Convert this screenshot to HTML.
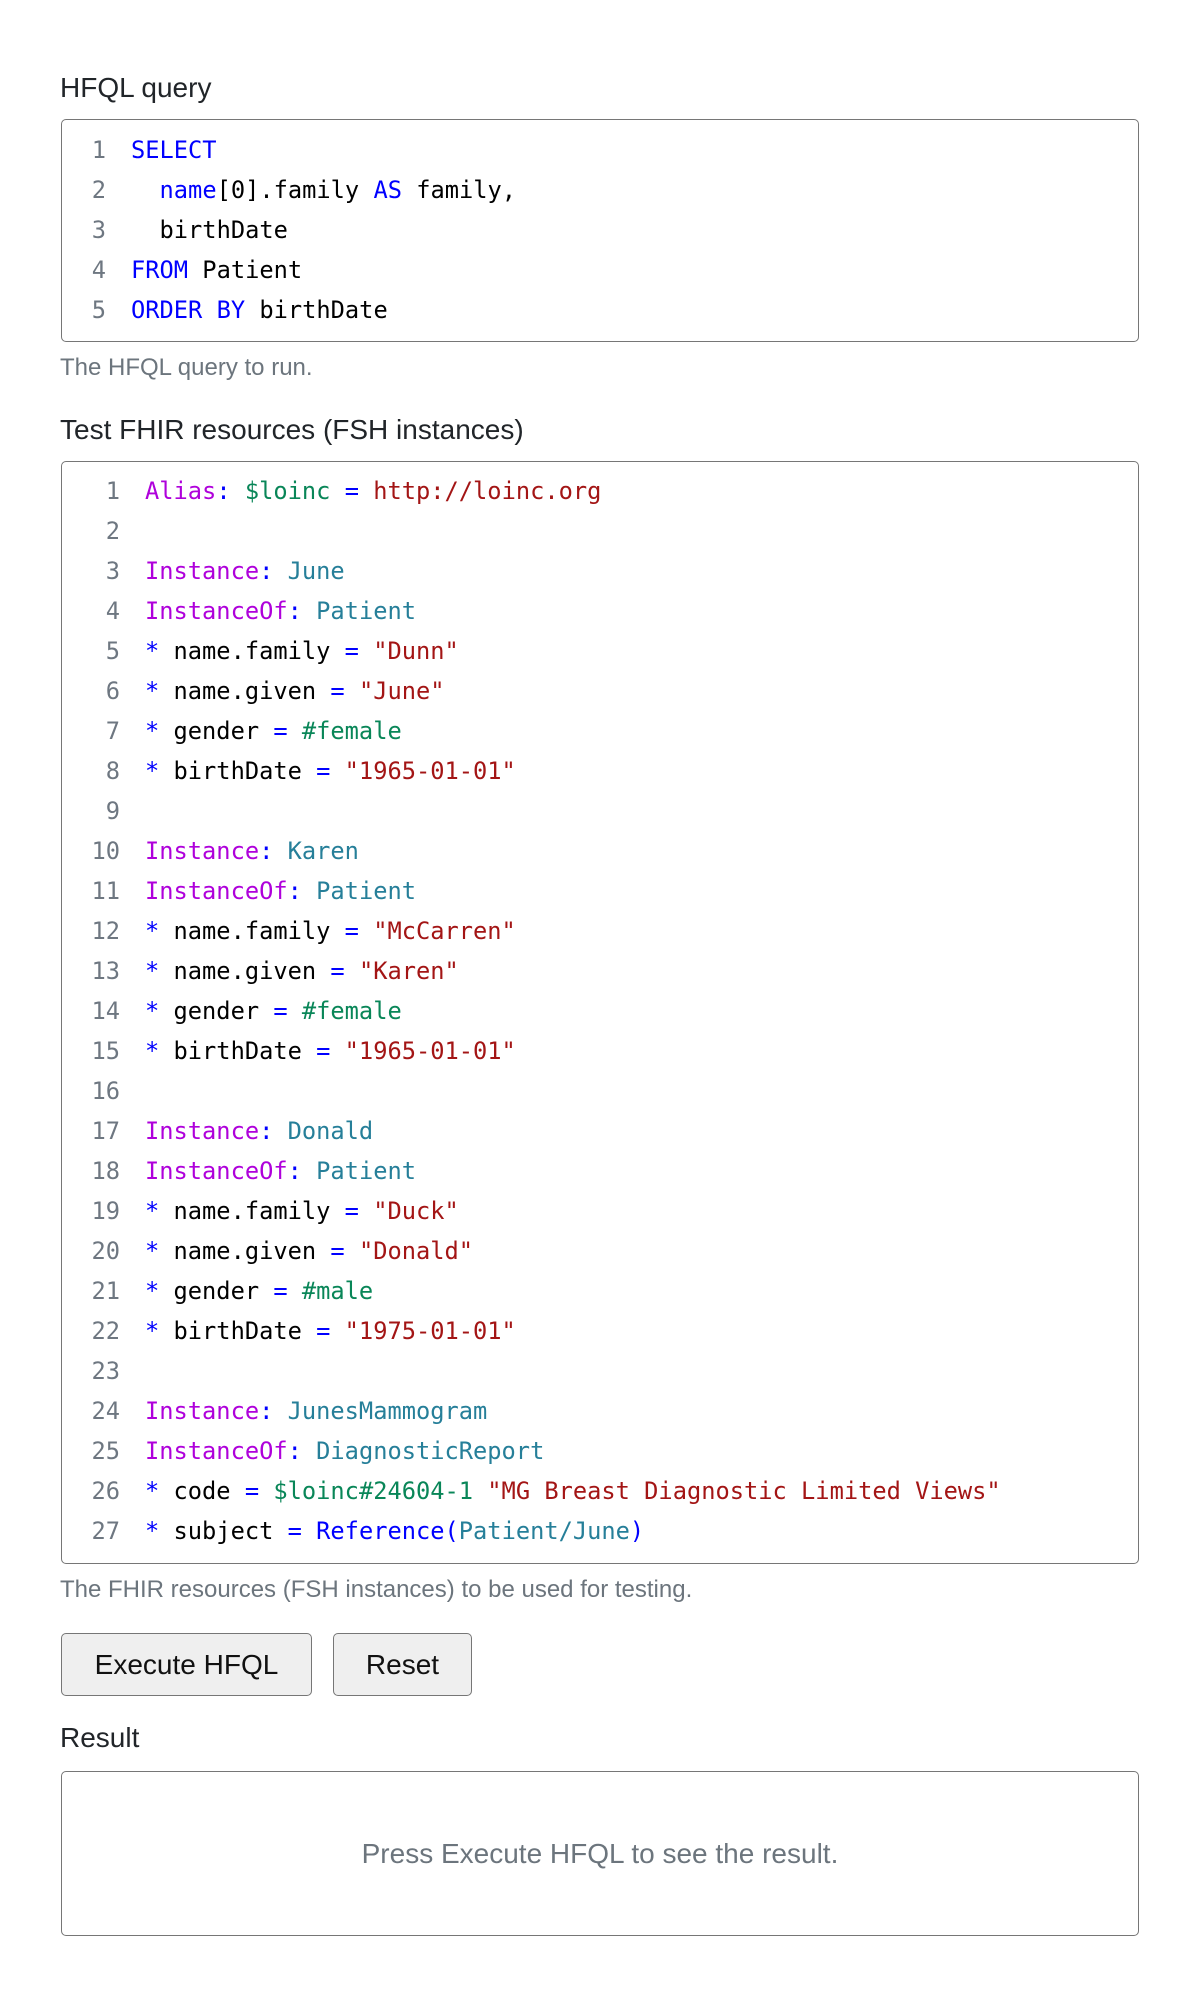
<!DOCTYPE html>
<html><head><meta charset="utf-8"><style>
body{margin:0;width:1200px;height:2004px;background:#fff;position:relative;font-family:"Liberation Sans",sans-serif;overflow:hidden}
.a{position:absolute;white-space:pre}
.lbl{font-size:28px;line-height:28px;color:#212529}
.cap{font-size:24px;line-height:24px;color:#6c757d}
.box{position:absolute;left:61px;width:1078px;border:1.5px solid #767676;border-radius:5px;box-sizing:border-box}
.code{position:absolute;font-family:"DejaVu Sans Mono","Liberation Mono",monospace;font-size:23.7px;line-height:40px;white-space:pre}
.n{position:absolute;text-align:right;color:#6e7781}
.k{color:#0000ff}.m{color:#af00db}.g{color:#098658}.r{color:#a31515}.t{color:#267f99}
.btn{position:absolute;top:1633px;height:63px;background:#efefef;border:1.5px solid #767676;border-radius:5px;box-sizing:border-box;font-size:28px;color:#111;display:flex;align-items:center;justify-content:center}
</style></head><body>
<div class="a lbl" style="left:60px;top:74px">HFQL query</div>
<div class="box" style="top:119px;height:223px"></div>
<div class="code n" style="left:69px;width:37px;top:130px">1
2
3
4
5</div>
<div class="code" style="left:131px;top:130px"><span class="k">SELECT</span>
  <span class="k">name</span>[0].family <span class="k">AS</span> family,
  birthDate
<span class="k">FROM</span> Patient
<span class="k">ORDER BY</span> birthDate</div>
<div class="a cap" style="left:60px;top:356px">The HFQL query to run.</div>

<div class="a lbl" style="left:60px;top:416px">Test FHIR resources (FSH instances)</div>
<div class="box" style="top:461px;height:1103px"></div>
<div class="code n" style="left:69px;width:51px;top:471px">1
2
3
4
5
6
7
8
9
10
11
12
13
14
15
16
17
18
19
20
21
22
23
24
25
26
27</div>
<div class="code" style="left:145px;top:471px"><span class="m">Alias</span><span class="k">:</span> <span class="g">$loinc</span> <span class="k">=</span> <span class="r">http://loinc.org</span>

<span class="m">Instance</span><span class="k">:</span> <span class="t">June</span>
<span class="m">InstanceOf</span><span class="k">:</span> <span class="t">Patient</span>
<span class="k">*</span> name.family <span class="k">=</span> <span class="r">"Dunn"</span>
<span class="k">*</span> name.given <span class="k">=</span> <span class="r">"June"</span>
<span class="k">*</span> gender <span class="k">=</span> <span class="g">#female</span>
<span class="k">*</span> birthDate <span class="k">=</span> <span class="r">"1965-01-01"</span>

<span class="m">Instance</span><span class="k">:</span> <span class="t">Karen</span>
<span class="m">InstanceOf</span><span class="k">:</span> <span class="t">Patient</span>
<span class="k">*</span> name.family <span class="k">=</span> <span class="r">"McCarren"</span>
<span class="k">*</span> name.given <span class="k">=</span> <span class="r">"Karen"</span>
<span class="k">*</span> gender <span class="k">=</span> <span class="g">#female</span>
<span class="k">*</span> birthDate <span class="k">=</span> <span class="r">"1965-01-01"</span>

<span class="m">Instance</span><span class="k">:</span> <span class="t">Donald</span>
<span class="m">InstanceOf</span><span class="k">:</span> <span class="t">Patient</span>
<span class="k">*</span> name.family <span class="k">=</span> <span class="r">"Duck"</span>
<span class="k">*</span> name.given <span class="k">=</span> <span class="r">"Donald"</span>
<span class="k">*</span> gender <span class="k">=</span> <span class="g">#male</span>
<span class="k">*</span> birthDate <span class="k">=</span> <span class="r">"1975-01-01"</span>

<span class="m">Instance</span><span class="k">:</span> <span class="t">JunesMammogram</span>
<span class="m">InstanceOf</span><span class="k">:</span> <span class="t">DiagnosticReport</span>
<span class="k">*</span> code <span class="k">=</span> <span class="g">$loinc#24604-1</span> <span class="r">"MG Breast Diagnostic Limited Views"</span>
<span class="k">*</span> subject <span class="k">=</span> <span class="k">Reference(</span><span class="t">Patient/June</span><span class="k">)</span></div>
<div class="a cap" style="left:60px;top:1578px">The FHIR resources (FSH instances) to be used for testing.</div>

<div class="btn" style="left:61px;width:251px">Execute HFQL</div>
<div class="btn" style="left:333px;width:139px">Reset</div>

<div class="a lbl" style="left:60px;top:1724px">Result</div>
<div class="box" style="top:1771px;height:165px;display:flex;align-items:center;justify-content:center;font-size:28px;color:#6c757d">Press Execute HFQL to see the result.</div>
</body></html>
